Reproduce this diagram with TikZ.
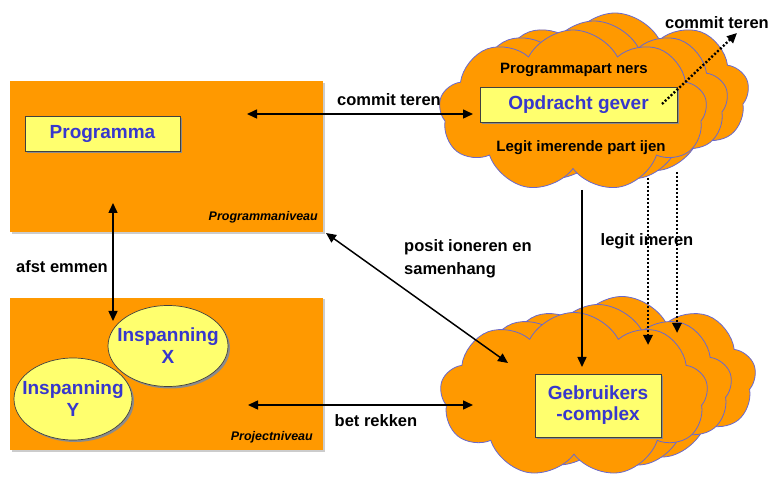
\documentclass[tikz,border=0pt]{standalone}
\usepackage{fontspec}
\setmainfont{Liberation Sans}
\usetikzlibrary{shapes.symbols,shapes.geometric,arrows.meta,shadows}
\definecolor{org}{RGB}{255,153,0}
\definecolor{ylw}{RGB}{255,255,110}
\definecolor{bluetxt}{RGB}{55,55,205}
\definecolor{cloudline}{RGB}{105,105,205}
\begin{document}
\begin{tikzpicture}[x=1pt,y=-1pt,
  levelbox/.style={fill=org, draw=none, minimum width=313pt, minimum height=151pt, inner sep=0pt,
    drop shadow={shadow xshift=1.5pt,shadow yshift=-1.5pt,fill=black!20,opacity=1}},
  ybox/.style={fill=ylw, draw=black!75, line width=0.7pt, inner sep=0pt, text=bluetxt,
    font=\bfseries\fontsize{19}{21}\selectfont, align=center,
    drop shadow={shadow xshift=2pt,shadow yshift=-2pt,fill=black!45,opacity=1}},
  yell/.style={ellipse, fill=ylw, draw=black!75, line width=0.7pt, inner sep=0pt,
    drop shadow={shadow xshift=2pt,shadow yshift=-2pt,fill=black!45,opacity=1}},
  elltext/.style={text=bluetxt, font=\bfseries\fontsize{19}{22}\selectfont, align=center, inner sep=0pt},
  cloudbase/.style={cloud, cloud puffs=9, cloud puff arc=125, cloud ignores aspect, fill=org,
    draw=cloudline, line width=0.8pt, inner sep=0pt},
  lbl/.style={font=\bfseries\fontsize{16.5}{20}\selectfont, text=black, inner sep=0pt, align=left},
  clbl/.style={font=\bfseries\fontsize{15}{18}\selectfont, text=black, inner sep=0pt},
  lvl/.style={font=\bfseries\itshape\fontsize{12.5}{14}\selectfont, text=black, inner sep=0pt, anchor=east},
  tip/.style={line width=1.5pt, -{Triangle[length=10pt,width=9pt]}},
  dtip/.style={line width=1.5pt, {Triangle[length=10pt,width=9pt]}-{Triangle[length=10pt,width=9pt]}},
  dottip/.style={line width=2.4pt, dash pattern=on 2pt off 2pt, -{Triangle[length=10pt,width=9pt]}}
]
\useasboundingbox (0,0) rectangle (777,478);

% level boxes
\node[levelbox] (progniv) at (166.5,157) {};
\node[levelbox, minimum height=152pt] (projniv) at (166.5,374) {};
\node[lvl] (prognivlbl) at (318,217) {Programmaniveau};
\node[lvl] (projnivlbl) at (313,437) {Projectniveau};

\node[ybox, minimum width=155pt, minimum height=35pt] (prog) at (102.5,133.5) {Programma};
\node[yell, minimum width=120pt, minimum height=81pt] (inspx) at (168,346) {};
\node[elltext] (inspxt) at (inspx.center) {Inspanning\\X};
\node[yell, minimum width=118pt, minimum height=82pt] (inspy) at (73,399) {};
\node[elltext] (inspyt) at (inspy.center) {Inspanning\\Y};

% top clouds
\node[cloudbase, minimum width=268pt, minimum height=162pt] (tc3) at (615,94) {};
\node[cloudbase, minimum width=268pt, minimum height=162pt] (tc2) at (594,102) {};
\node[cloudbase, minimum width=268pt, minimum height=162pt] (tc1) at (573,111) {};
\node[clbl] (partners) at (574,70) {Programmapart ners};
\node[clbl] (legpart) at (581,148) {Legit imerende part ijen};
\node[ybox, minimum width=197pt, minimum height=35pt] (opdr) at (578.5,104.5) {Opdracht gever};

% bottom clouds
\node[cloudbase, minimum width=268pt, minimum height=165pt] (bc3) at (622,379) {};
\node[cloudbase, minimum width=268pt, minimum height=165pt] (bc2) at (598,387) {};
\node[cloudbase, minimum width=268pt, minimum height=165pt] (bc1) at (574,395) {};
\node[ybox, minimum width=126pt, minimum height=63pt] (gebr) at (598,405.5) {Gebruikers\\-complex};

% connector end points
\coordinate (c1a) at (247,114);
\coordinate (c1b) at (473,114);
\coordinate (afa) at (113,203);
\coordinate (afb) at (113,321);
\coordinate (bta) at (248,405);
\coordinate (btb) at (473,405);
\coordinate (poa) at (326,233);
\coordinate (pob) at (508,363);
\coordinate (vsa) at (582,190);
\coordinate (vsb) at (582,367);
\coordinate (d1a) at (648,178);
\coordinate (d1b) at (648,345);
\coordinate (d2a) at (677,172);
\coordinate (d2b) at (677,333);
\coordinate (dga) at (662,104);
\coordinate (dgb) at (737,33);

% connectors
\draw[dtip] (c1a) -- (c1b);
\draw[dtip] (afa) -- (afb);
\draw[dtip] (bta) -- (btb);
\draw[dtip] (poa) -- (pob);
\draw[tip] (vsa) -- (vsb);
\draw[dottip] (d1a) -- (d1b);
\draw[dottip] (d2a) -- (d2b);
\draw[dottip] (dga) -- (dgb);

% labels
\node[lbl] (lcommit) at (389,100) {commit teren};
\node[lbl] (lafst) at (62,267) {afst emmen};
\node[lbl] (lbetr) at (376,421) {bet rekken};
\node[lbl, anchor=west] (lpos1) at (404,247) {posit ioneren en};
\node[lbl, anchor=west] (lpos2) at (404,270) {samenhang};
\node[lbl] (llegit) at (647,241) {legit imeren};
\node[lbl] (lcommit2) at (717,23) {commit teren};
\end{tikzpicture}
\end{document}
